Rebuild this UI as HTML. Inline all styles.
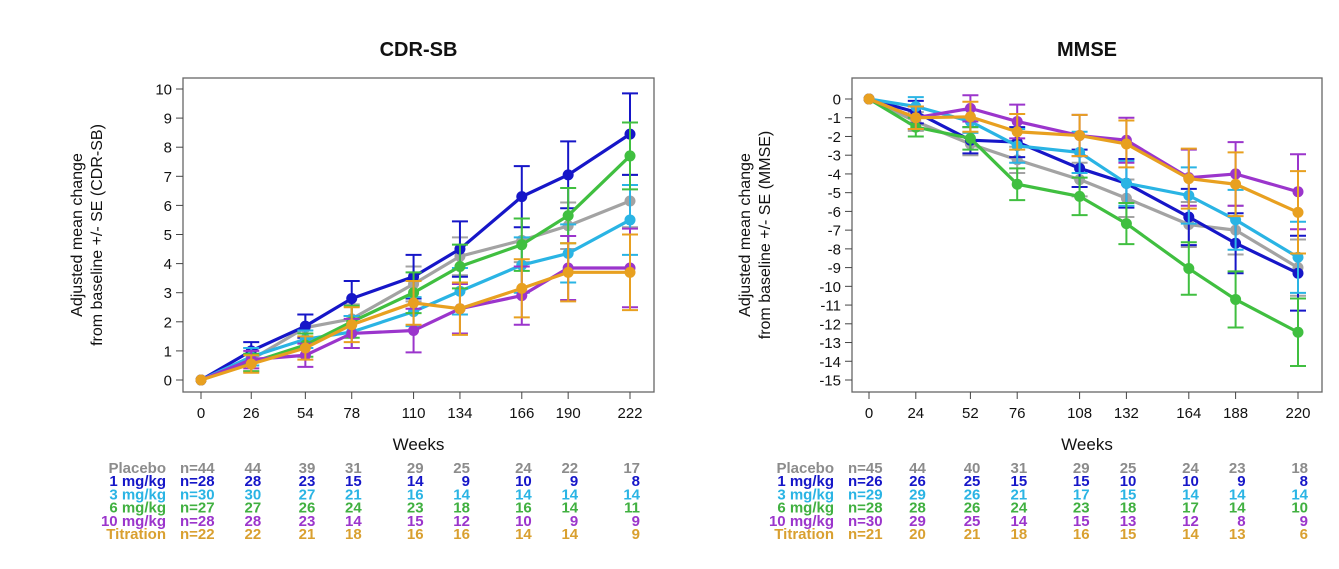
<!DOCTYPE html>
<html><head><meta charset="utf-8"><style>
body{margin:0;background:#fff;}
svg{display:block;font-family:"Liberation Sans",Arial,sans-serif;}
</style></head><body>
<svg id="chart" width="1339" height="569" viewBox="0 0 1339 569" xmlns="http://www.w3.org/2000/svg"></svg>
<script>
const groups = ["Placebo","1 mg/kg","3 mg/kg","6 mg/kg","10 mg/kg","Titration"];
const colors = ["#a3a3a3","#1616c8","#2ab4e4","#40bf40","#9b35cc","#e8a020"];
const textColors = ["#8c8c8c","#1616c8","#2ab4e4","#40b040","#9b35cc","#d9a030"];

const cdrWeeks = [0,26,54,78,110,134,166,190,222];
const cdrTicks = [0,1,2,3,4,5,6,7,8,9,10];
const cdrPlacebo = [0,0.7,1.8,2.1,3.3,4.25,4.8,5.3,6.15];
const cdr1 = [0,1.0,1.85,2.8,3.55,4.5,6.3,7.05,8.45];
const cdr3 = [0,0.8,1.4,1.65,2.35,3.05,3.95,4.35,5.5];
const cdr6 = [0,0.6,1.2,2.0,3.0,3.9,4.65,5.65,7.7];
const cdr10 = [0,0.7,0.85,1.6,1.7,2.45,2.9,3.85,3.85];
const cdrTit = [0,0.55,1.1,1.9,2.65,2.45,3.15,3.7,3.7];
const cdrErrPlacebo = [0,0.4,0.45,0.5,0.6,0.65,0.75,0.8,0.9];
const cdrErr1 = [0,0.3,0.4,0.6,0.75,0.95,1.05,1.15,1.4];
const cdrErr3 = [0,0.3,0.3,0.55,0.5,0.8,0.95,1.0,1.2];
const cdrErr6 = [0,0.3,0.4,0.55,0.7,0.75,0.9,0.95,1.15];
const cdrErr10 = [0,0.3,0.4,0.5,0.75,0.85,1.0,1.1,1.35];
const cdrErrTit = [0,0.3,0.4,0.6,0.75,0.9,1.0,1.0,1.3];
const cdrN = [
 ["n=44","44","39","31","29","25","24","22","17"],
 ["n=28","28","23","15","14","9","10","9","8"],
 ["n=30","30","27","21","16","14","14","14","14"],
 ["n=27","27","26","24","23","18","16","14","11"],
 ["n=28","28","23","14","15","12","10","9","9"],
 ["n=22","22","21","18","16","16","14","14","9"]];

const mmseWeeks = [0,24,52,76,108,132,164,188,220];
const mmseTicks = [0,-1,-2,-3,-4,-5,-6,-7,-8,-9,-10,-11,-12,-13,-14,-15];
const mmsePlacebo = [0,-1.2,-2.4,-3.25,-4.3,-5.3,-6.7,-7.0,-9.0];
const mmse1 = [0,-0.7,-2.2,-2.3,-3.7,-4.5,-6.3,-7.7,-9.3];
const mmse3 = [0,-0.4,-1.2,-2.5,-2.85,-4.5,-5.15,-6.45,-8.45];
const mmse6 = [0,-1.5,-2.1,-4.55,-5.2,-6.65,-9.05,-10.7,-12.45];
const mmse10 = [0,-1.0,-0.5,-1.2,-1.95,-2.2,-4.2,-4.0,-4.95];
const mmseTit = [0,-1.0,-0.95,-1.75,-1.95,-2.4,-4.25,-4.55,-6.05];
const mmseErrPlacebo = [0,0.5,0.6,0.7,0.9,1.0,1.2,1.3,1.5];
const mmseErr1 = [0,0.6,0.7,0.8,1.0,1.3,1.5,1.6,2.0];
const mmseErr3 = [0,0.5,0.6,0.9,1.1,1.2,1.5,1.6,1.9];
const mmseErr6 = [0,0.5,0.6,0.85,1.0,1.1,1.4,1.5,1.8];
const mmseErr10 = [0,0.6,0.7,0.9,1.1,1.2,1.5,1.7,2.0];
const mmseErrTit = [0,0.6,0.8,0.95,1.1,1.25,1.6,1.7,2.2];
const mmseN = [
 ["n=45","44","40","31","29","25","24","23","18"],
 ["n=26","26","25","15","15","10","10","9","8"],
 ["n=29","29","26","21","17","15","14","14","14"],
 ["n=28","28","26","24","23","18","17","14","10"],
 ["n=30","29","25","14","15","13","12","8","9"],
 ["n=21","20","21","18","16","15","14","13","6"]];

const NS="http://www.w3.org/2000/svg";
const svg=document.getElementById('chart');
function el(tag,attrs,parent,text){const e=document.createElementNS(NS,tag);for(const k in attrs)e.setAttribute(k,attrs[k]);if(text!==undefined)e.textContent=text;(parent||svg).appendChild(e);return e;}

function drawPanel(cfg){
  const g=el('g',{});
  
  
  const xs=v=>cfg.x0+(v-cfg.wmin)/(cfg.wmax-cfg.wmin)*(cfg.x1-cfg.x0);
  const ys=v=>cfg.y0+(v-cfg.vmin)/(cfg.vmax-cfg.vmin)*(cfg.y1-cfg.y0);
  const t=el('text',{x:(cfg.bx0+cfg.bx1)/2,y:56,'text-anchor':'middle','font-size':20,'font-weight':'bold',fill:'#111'},g,cfg.title);
  
  
  const box=el('rect',{x:cfg.bx0,y:78,width:cfg.bx1-cfg.bx0,height:314,fill:'none',stroke:'#666','stroke-width':1.3},g);
  
  
  const ya=el('g',{},g);
  
  
  cfg.yticks.forEach(v=>{const y=ys(v);el('line',{x1:cfg.bx0-7,x2:cfg.bx0,y1:y,y2:y,stroke:'#444'},ya);
    el('text',{x:cfg.bx0-11,y:y+5.5,'text-anchor':'end','font-size':15,fill:'#111'},ya,String(v));});
  const xa=el('g',{},g);
  
  
  cfg.weeks.forEach(v=>{const x=xs(v);el('line',{x1:x,x2:x,y1:392,y2:399,stroke:'#444'},xa);
    el('text',{x:x,y:418,'text-anchor':'middle','font-size':15,fill:'#111'},xa,String(v));});
  const xt=el('text',{x:(cfg.bx0+cfg.bx1)/2,y:450,'text-anchor':'middle','font-size':17,fill:'#111'},g,'Weeks');
  
  
  const yt=el('text',{transform:`translate(${cfg.ylx},235) rotate(-90)`,'text-anchor':'middle','font-size':16,fill:'#111'},g);
  
  
  el('tspan',{x:0,dy:0},yt,'Adjusted mean change');
  el('tspan',{x:0,dy:20},yt,cfg.ylab);
  cfg.series.forEach((s,i)=>{
    const sg=el('g',{},g);
    
    
    const c=colors[i];
    s.forEach((v,j)=>{const e=cfg.errs[i][j];if(!e)return;const x=xs(cfg.weeks[j]);
      const eb=el('path',{d:`M${x},${ys(v-e)}V${ys(v+e)}M${x-8},${ys(v-e)}H${x+8}M${x-8},${ys(v+e)}H${x+8}`,stroke:c,'stroke-width':2,fill:'none'},sg);
      
      });
    const ln=el('polyline',{points:s.map((v,j)=>xs(cfg.weeks[j])+','+ys(v)).join(' '),fill:'none',stroke:c,'stroke-width':3.2},sg);
    
    
    s.forEach((v,j)=>{const p=el('circle',{cx:xs(cfg.weeks[j]),cy:ys(v),r:5.5,fill:c},sg);
      
      });
  });
  const tb=el('g',{'font-size':15,'font-weight':'bold'},g);
  
  
  groups.forEach((gname,i)=>{const y=473+i*13.2;
    el('text',{x:cfg.labX,y:y,'text-anchor':'end',fill:textColors[i]},tb,gname);
    cfg.ns[i].forEach((n,j)=>{const x=j===0?cfg.nX:xs(cfg.weeks[j])+10;
      el('text',{x:x,y:y,'text-anchor':j===0?'start':'end',fill:textColors[i]},tb,n);});
  });
}
drawPanel({name:'cdr-sb',title:'CDR-SB',bx0:183,bx1:654,x0:201,x1:630,wmin:0,wmax:222,y0:380,y1:89,vmin:0,vmax:10,
  weeks:cdrWeeks,yticks:cdrTicks,ylx:82,ylab:'from baseline +/- SE (CDR-SB)',
  series:[cdrPlacebo,cdr1,cdr3,cdr6,cdr10,cdrTit],errs:[cdrErrPlacebo,cdrErr1,cdrErr3,cdrErr6,cdrErr10,cdrErrTit],
  ns:cdrN,labX:166,nX:180});
drawPanel({name:'mmse',title:'MMSE',bx0:852,bx1:1322,x0:869,x1:1298,wmin:0,wmax:220,y0:99,y1:380,vmin:0,vmax:-15,
  weeks:mmseWeeks,yticks:mmseTicks,ylx:750,ylab:'from baseline +/- SE (MMSE)',
  series:[mmsePlacebo,mmse1,mmse3,mmse6,mmse10,mmseTit],errs:[mmseErrPlacebo,mmseErr1,mmseErr3,mmseErr6,mmseErr10,mmseErrTit],
  ns:mmseN,labX:834,nX:848});
</script>
</body></html>
